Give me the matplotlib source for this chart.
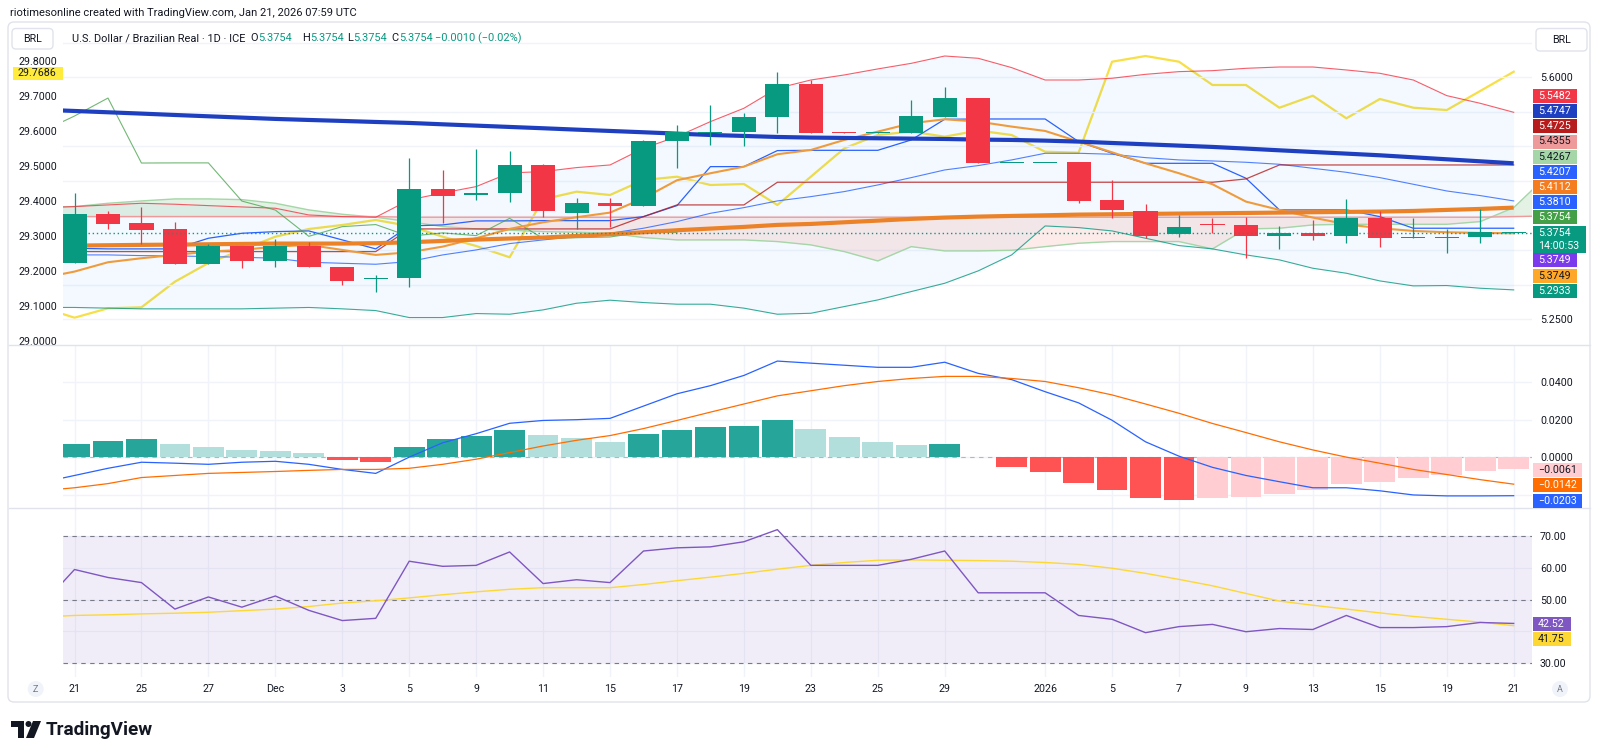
import matplotlib
matplotlib.use("Agg")
import matplotlib.pyplot as plt
import numpy as np
from matplotlib.patches import Circle, FancyBboxPatch, Polygon, Rectangle
from matplotlib.lines import Line2D
from matplotlib.transforms import IdentityTransform

plt.rcParams["font.family"] = ["Roboto", "DejaVu Sans"]

W, H = 1600, 756
INK = "#131722"
MUTED = "#787b86"
GRID = "#f0f3fa"
BORDER = "#e0e3eb"
UP = "#089981"
DOWN = "#f23645"

# bar 0 = Nov 21 2025 ... bar 43 = Jan 21 2026 (daily, ICE)
TICK_IDX = [0, 2, 4, 6, 8, 10, 12, 14, 16, 18, 20, 22, 24, 26, 29, 31, 33, 35, 37, 39, 41, 43]
TICK_LBL = ["21", "25", "27", "Dec", "3", "5", "9", "11", "15", "17", "19",
            "23", "25", "29", "2026", "5", "7", "9", "13", "15", "19", "21"]

OPEN = [5.332, 5.402, 5.389, 5.381, 5.330, 5.356, 5.334, 5.356, 5.326, 5.308,
        5.309, 5.438, 5.430, 5.432, 5.473, 5.404, 5.418, 5.414, 5.508, 5.520,
        5.521, 5.542, 5.591, 5.521, 5.520, 5.520, 5.543, 5.570, 5.476, 5.476,
        5.477, 5.422, 5.407, 5.373, 5.388, 5.387, 5.370, 5.375, 5.370, 5.396,
        5.3675, 5.368, 5.369, 5.3754]
HIGH = [5.433, 5.407, 5.413, 5.390, 5.359, 5.356, 5.366, 5.362, 5.326, 5.314,
        5.483, 5.466, 5.496, 5.493, 5.475, 5.425, 5.426, 5.509, 5.531, 5.560,
        5.549, 5.607, 5.596, 5.521, 5.521, 5.567, 5.586, 5.570, 5.476, 5.476,
        5.477, 5.451, 5.417, 5.401, 5.396, 5.398, 5.385, 5.394, 5.424, 5.406,
        5.396, 5.380, 5.409, 5.3754]
LOW = [5.332, 5.380, 5.359, 5.330, 5.330, 5.324, 5.325, 5.325, 5.299, 5.289,
       5.297, 5.389, 5.422, 5.420, 5.398, 5.380, 5.383, 5.414, 5.469, 5.502,
       5.500, 5.519, 5.520, 5.520, 5.520, 5.520, 5.543, 5.476, 5.476, 5.476,
       5.418, 5.396, 5.367, 5.369, 5.375, 5.338, 5.351, 5.365, 5.360, 5.355,
       5.367, 5.346, 5.360, 5.3754]
CLOSE = [5.402, 5.388, 5.379, 5.330, 5.356, 5.334, 5.356, 5.325, 5.306, 5.309,
         5.438, 5.429, 5.432, 5.473, 5.407, 5.418, 5.414, 5.508, 5.521, 5.521,
         5.542, 5.590, 5.520, 5.520, 5.521, 5.544, 5.570, 5.476, 5.4762, 5.4762,
         5.421, 5.408, 5.370, 5.384, 5.387, 5.370, 5.375, 5.371, 5.396, 5.367,
         5.368, 5.369, 5.3764, 5.3754]

# overlays, first value is bar -1 (Nov 20)
EMA_LONG = [5.5532,
            5.5513, 5.5494, 5.5475, 5.5455, 5.5436, 5.5417, 5.5398, 5.5383, 5.5369, 5.5354,
            5.5340, 5.5320, 5.5301, 5.5282, 5.5263, 5.5243, 5.5224, 5.5205, 5.5185, 5.5166,
            5.5152, 5.5137, 5.5128, 5.5123, 5.5118, 5.5113, 5.5108, 5.5099, 5.5094, 5.5084,
            5.5070, 5.5050, 5.5031, 5.5012, 5.4993, 5.4969, 5.4944, 5.4920, 5.4896, 5.4872,
            5.4843, 5.4814, 5.4785, 5.4756]
EMA_MID = [5.3561,
           5.3566, 5.3571, 5.3576, 5.3580, 5.3585, 5.3590, 5.3595, 5.3595, 5.3595, 5.3600,
           5.3614, 5.3633, 5.3653, 5.3668, 5.3682, 5.3706, 5.3730, 5.3759, 5.3788, 5.3812,
           5.3836, 5.3865, 5.3879, 5.3903, 5.3927, 5.3952, 5.3971, 5.3985, 5.3995, 5.4004,
           5.4014, 5.4019, 5.4024, 5.4029, 5.4033, 5.4038, 5.4043, 5.4048, 5.4053, 5.4058,
           5.4067, 5.4082, 5.4096, 5.4115]
EMA_FAST = [5.3094,
            5.3190, 5.3325, 5.3383, 5.3431, 5.3479, 5.3503, 5.3551, 5.3576, 5.3503, 5.3431,
            5.3469, 5.3551, 5.3672, 5.3807, 5.3903, 5.3976, 5.4043, 5.4250, 5.4511, 5.4612,
            5.4708, 5.4887, 5.4949, 5.5094, 5.5214, 5.5335, 5.5393, 5.5359, 5.5287, 5.5224,
            5.5070, 5.4915, 5.4756, 5.4612, 5.4453, 5.4202, 5.4082, 5.3971, 5.3874, 5.3817,
            5.3778, 5.3759, 5.3749, 5.3744]
BB_UP = [5.4115,
         5.4130, 5.4154, 5.4178, 5.4164, 5.4144, 5.4125, 5.4106, 5.4009, 5.3985, 5.3976,
         5.4226, 5.4327, 5.4419, 5.4617, 5.4636, 5.4694, 5.4732, 5.4973, 5.5142, 5.5359,
         5.5552, 5.5841, 5.5961, 5.6034, 5.6121, 5.6202, 5.6308, 5.6275, 5.6140, 5.5961,
         5.5961, 5.5986, 5.6043, 5.6082, 5.6096, 5.6130, 5.6149, 5.6149, 5.6106, 5.6058,
         5.5961, 5.5735, 5.5624, 5.5494]
BB_MID = [5.3431,
          5.3431, 5.3431, 5.3421, 5.3416, 5.3407, 5.3397, 5.3383, 5.3325, 5.3310, 5.3296,
          5.3335, 5.3431, 5.3503, 5.3595, 5.3648, 5.3696, 5.3744, 5.3817, 5.3913, 5.4033,
          5.4115, 5.4212, 5.4274, 5.4347, 5.4443, 5.4549, 5.4660, 5.4723, 5.4805, 5.4901,
          5.4901, 5.4887, 5.4838, 5.4805, 5.4790, 5.4771, 5.4742, 5.4684, 5.4626, 5.4549,
          5.4453, 5.4356, 5.4289, 5.4212]
BB_LO = [5.2671,
         5.2671, 5.2661, 5.2651, 5.2651, 5.2651, 5.2651, 5.2661, 5.2671, 5.2651, 5.2626,
         5.2525, 5.2525, 5.2583, 5.2573, 5.2636, 5.2732, 5.2776, 5.2742, 5.2718, 5.2718,
         5.2661, 5.2573, 5.2587, 5.2684, 5.2780, 5.2901, 5.3021, 5.3200, 5.3431, 5.3850,
         5.3826, 5.3778, 5.3672, 5.3566, 5.3518, 5.3431, 5.3359, 5.3238, 5.3166, 5.3055,
         5.2983, 5.2988, 5.2949, 5.2925]
TENKAN = [5.3527,
          5.3527, 5.3518, 5.3518, 5.3518, 5.3672, 5.3744, 5.3768, 5.3778, 5.3648, 5.3518,
          5.3850, 5.3865, 5.3923, 5.3923, 5.3927, 5.3927, 5.3927, 5.3985, 5.4144, 5.4708,
          5.4708, 5.4940, 5.4944, 5.4944, 5.4944, 5.5094, 5.5393, 5.5397, 5.5397, 5.5397,
          5.5070, 5.4901, 5.4756, 5.4756, 5.4756, 5.4540, 5.4082, 5.4082, 5.4082, 5.3985,
          5.3817, 5.3817, 5.3817, 5.3817]
KIJUN = [5.3479,
         5.3479, 5.3479, 5.3479, 5.3479, 5.3479, 5.3479, 5.3479, 5.3479, 5.3479, 5.3479,
         5.3807, 5.3807, 5.3807, 5.3807, 5.3807, 5.3807, 5.3807, 5.3985, 5.4154, 5.4154,
         5.4154, 5.4482, 5.4482, 5.4482, 5.4482, 5.4482, 5.4482, 5.4482, 5.4482, 5.4482,
         5.4482, 5.4482, 5.4482, 5.4482, 5.4482, 5.4530, 5.4732, 5.4732, 5.4732, 5.4732,
         5.4732, 5.4732, 5.4732, 5.4732]
# leading spans run one bar past the last candle (bar 44)
SPAN_A = [5.4115,
          5.4130, 5.4178, 5.4212, 5.4241, 5.4241, 5.4231, 5.4178, 5.4082, 5.4019, 5.3976,
          5.3913, 5.3841, 5.3807, 5.3788, 5.3768, 5.3759, 5.3744, 5.3682, 5.3648, 5.3648,
          5.3648, 5.3624, 5.3576, 5.3479, 5.3344, 5.3551, 5.3489, 5.3489, 5.3498, 5.3551,
          5.3600, 5.3624, 5.3624, 5.3624, 5.3518, 5.3807, 5.3817, 5.3865, 5.3874, 5.3874,
          5.3874, 5.3874, 5.3913, 5.4115, 5.4578]
SPAN_B = [5.3985,
          5.3985, 5.3985, 5.3985, 5.3985, 5.3985, 5.3985, 5.3985, 5.3985, 5.3985, 5.3985,
          5.3976, 5.3976, 5.3976, 5.3976, 5.3976, 5.3976, 5.3976, 5.3976, 5.3976, 5.3976,
          5.3976, 5.3976, 5.3976, 5.3976, 5.3976, 5.3976, 5.3976, 5.3976, 5.3976, 5.3976,
          5.3976, 5.3976, 5.3976, 5.3976, 5.3976, 5.3976, 5.3976, 5.3976, 5.3976, 5.3976,
          5.3976, 5.3976, 5.3976, 5.3985, 5.3995]
# yellow overlay on the left (29.x) scale
YELLOW = [29.0980,
          29.0678, 29.0946, 29.0974, 29.1704, 29.2236, 29.2607, 29.2986, 29.3205, 29.3319, 29.3462,
          29.3291, 29.2986, 29.2721, 29.2399, 29.4051, 29.4268, 29.4174, 29.4601, 29.4695, 29.4459,
          29.4487, 29.3889, 29.4695, 29.5504, 29.5883, 29.5983, 29.5835, 29.6011, 29.5883, 29.5407,
          29.5379, 29.7972, 29.8134, 29.7972, 29.7308, 29.7308, 29.6661, 29.7003, 29.6359, 29.6909,
          29.6661, 29.6595, 29.7137, 29.7686]

MACD = [-0.0134,
        -0.0096, -0.0058, -0.0026, -0.0031, -0.0037, -0.0026, -0.0021, -0.0037, -0.0064, -0.0085,
        0.0001, 0.0077, 0.0125, 0.0180, 0.0195, 0.0199, 0.0206, 0.0271, 0.0336, 0.0379,
        0.0433, 0.0509, 0.0498, 0.0487, 0.0476, 0.0476, 0.0503, 0.0444, 0.0411, 0.0347,
        0.0288, 0.0196, 0.0082, 0.0006, -0.0053, -0.0096, -0.0129, -0.0161, -0.0161, -0.0177,
        -0.0199, -0.0204, -0.0204, -0.0203]
SIGNAL = [-0.0177,
          -0.0161, -0.0139, -0.0107, -0.0096, -0.0085, -0.0080, -0.0075, -0.0069, -0.0064, -0.0064,
          -0.0058, -0.0037, -0.0010, 0.0025, 0.0060, 0.0090, 0.0115, 0.0152, 0.0195, 0.0239,
          0.0282, 0.0325, 0.0352, 0.0379, 0.0401, 0.0417, 0.0428, 0.0428, 0.0417, 0.0401,
          0.0368, 0.0330, 0.0282, 0.0233, 0.0179, 0.0131, 0.0082, 0.0039, 0.0001, -0.0031,
          -0.0064, -0.0091, -0.0118, -0.0142]
HIST = [0.0071, 0.0087, 0.0098, 0.0071, 0.0055, 0.0039, 0.0033, 0.0023, -0.0012, -0.0025,
        0.0055, 0.0098, 0.0114, 0.0147, 0.0120, 0.0104, 0.0082, 0.0125, 0.0147, 0.0158,
        0.0168, 0.0195, 0.0152, 0.0109, 0.0082, 0.0066, 0.0071, 0.0003, -0.0049, -0.0076,
        -0.0135, -0.0173, -0.0216, -0.0227, -0.0216, -0.0211, -0.0194, -0.0173, -0.0140, -0.0130,
        -0.0108, -0.0092, -0.0070, -0.0061]

RSI = [48.0,
       59.4, 56.9, 55.3, 47.0, 50.8, 47.6, 51.1, 46.6, 43.4, 44.1,
       62.0, 60.4, 60.7, 64.9, 55.0, 56.2, 55.3, 65.2, 66.2, 66.5,
       68.1, 71.9, 60.7, 60.7, 60.7, 62.6, 65.2, 52.1, 52.1, 52.1,
       45.0, 43.8, 39.6, 41.5, 42.2, 39.9, 40.9, 40.6, 45.0, 41.2,
       41.2, 41.5, 42.8, 42.5]
RSI_MA = [44.5,
          45.0, 45.2, 45.5, 45.7, 46.0, 46.5, 47.0, 47.8, 48.9, 49.6,
          50.5, 51.5, 52.4, 53.2, 53.7, 53.7, 53.7, 54.7, 55.9, 57.0,
          58.2, 59.5, 60.7, 61.6, 62.3, 62.4, 62.3, 62.2, 62.0, 61.6,
          61.0, 59.8, 58.2, 56.3, 54.3, 51.9, 49.5, 48.2, 47.0, 45.8,
          44.7, 43.8, 42.9, 41.8]

# last-value tags on the price scale: text, bg, fg
PRICE_TAGS = [("5.5482", "#f23645", "white"), ("5.4747", "#1e40c0", "white"),
              ("5.4725", "#b71c1c", "white"), ("5.4355", "#ef9a9a", INK),
              ("5.4267", "#a5d6a7", INK), ("5.4207", "#2962ff", "white"),
              ("5.4112", "#f57c1f", "white"), ("5.3810", "#2962ff", "white"),
              ("5.3754", "#43a047", "white")]
PRICE_TAGS_LOW = [("5.3749", "#7c3aed", "white"), ("5.3749", "#ffa726", INK),
                  ("5.2933", "#089981", "white")]
MACD_TAGS = [("\u22120.0061", "#ffcdd2", INK), ("\u22120.0142", "#ff6d00", "white"),
             ("\u22120.0203", "#2962ff", "white")]
RSI_TAGS = [("42.52", "#7e57c2", "white"), ("41.75", "#fdd835", INK)]

X0, X1 = -0.344, 43.547
ID = IdentityTransform()

fig = plt.figure(figsize=(16, 7.56), dpi=100)
fig.patch.set_facecolor("white")


def box_px(x0, y0, x1, y1):
    return [x0 / W, 1 - y1 / H, (x1 - x0) / W, (y1 - y0) / H]


def ptext(x, y, s, **kw):
    kw.setdefault("fontsize", 7.7)
    kw.setdefault("color", INK)
    kw.setdefault("va", "center")
    fig.text(x / W, 1 - y / H, s, **kw)


def prect(x0, y0, x1, y1, **kw):
    fig.add_artist(Rectangle((x0, H - y1), x1 - x0, y1 - y0, transform=ID, **kw))


def tag(x0, yc, text, bg, fg, w=44, h=14):
    prect(x0, yc - h / 2, x0 + w, yc + h / 2, facecolor=bg, edgecolor="none", zorder=4)
    ptext(x0 + 5, yc, text, color=fg, zorder=5)


def style(a, yticks, ylabels):
    for s in a.spines.values():
        s.set_visible(False)
    a.set_xlim(X0, X1)
    a.set_xticks(TICK_IDX)
    a.set_yticks(yticks)
    a.set_yticklabels(ylabels)
    a.yaxis.tick_right()
    a.tick_params(length=0, labelsize=7.7, colors=INK, labelbottom=False)
    a.tick_params(axis="y", pad=5.8)
    a.grid(True, color=GRID, lw=1)
    a.set_axisbelow(True)


xs = np.arange(-1, 44)
xb = np.arange(44)

# ---- main price pane (left 29.x scale underneath, right 5.x scale on top)
ax_l = fig.add_axes(box_px(63, 26, 1532, 345))
ax = ax_l.twinx()
ax_l.set_zorder(0)
ax.set_zorder(1)
ax.patch.set_visible(False)
for s in ax_l.spines.values():
    s.set_visible(False)
ax_l.set_xlim(X0, X1)
ax_l.set_ylim(28.990, 29.8989)
ax_l.set_yticks([29.0, 29.1, 29.2, 29.3, 29.4, 29.5, 29.6, 29.7, 29.8])
ax_l.set_yticklabels([f"{v:.4f}" for v in ax_l.get_yticks()])
ax_l.yaxis.tick_left()
ax_l.tick_params(length=0, labelsize=7.7, colors=INK, labelbottom=False, pad=4.3)
ax_l.plot(xs, YELLOW, color="#f7df45", lw=1.6, zorder=3)

style(ax, [5.25, 5.30, 5.35, 5.40, 5.45, 5.50, 5.55, 5.60, 5.65],
      ["5.2500", "", "", "", "", "", "", "5.6000", ""])
ax.set_ylim(5.2128, 5.6742)

ax.fill_between(xs, BB_UP, BB_LO, color="#2196f3", alpha=0.05, lw=0, zorder=1)
xa = np.arange(-1, 45)
sa, sb = np.array(SPAN_A), np.array(SPAN_B)
ax.fill_between(xa, sa, sb, where=sa >= sb, interpolate=True, color="#43a047", alpha=0.14, lw=0, zorder=1)
ax.fill_between(xa, sa, sb, where=sa < sb, interpolate=True, color="#f44336", alpha=0.10, lw=0, zorder=1)
ax.plot(xa, SPAN_A, color="#a5d6a7", lw=1, zorder=2)
ax.plot(xa, SPAN_B, color="#ef9a9a", lw=1, zorder=2)
ax.plot(xs, BB_UP, color="#f23645", lw=0.8, alpha=0.8, zorder=2)
ax.plot(xs, BB_LO, color="#089981", lw=0.8, alpha=0.8, zorder=2)
ax.plot(xs, BB_MID, color="#2962ff", lw=0.8, alpha=0.8, zorder=2)
ax.plot(xs, TENKAN, color="#2962ff", lw=0.9, zorder=2)
ax.plot(xs, KIJUN, color="#b71c1c", lw=0.9, alpha=0.8, zorder=2)
# lagging span: closes shifted 25 bars back
ax.plot(xb[24:] - 25, CLOSE[24:], color="#43a047", lw=0.8, alpha=0.75, zorder=2)
ax.plot(xs, EMA_FAST, color="#ef9b3c", lw=1.5, zorder=3)
ax.plot(xs, EMA_MID, color="#ec8228", lw=3, zorder=3, solid_capstyle="butt")
ax.plot(xs, EMA_LONG, color="#1e40c0", lw=3, zorder=3, solid_capstyle="butt")

o, h, l, c = map(np.array, (OPEN, HIGH, LOW, CLOSE))
col = np.where(c >= o, UP, DOWN)
ax.vlines(xb, l, h, colors=col, lw=0.9, zorder=5)
ax.bar(xb, np.maximum(np.abs(c - o), 0.0013), bottom=np.minimum(o, c), width=0.72,
       color=col, lw=0, zorder=6)
ax.axhline(CLOSE[-1], color=UP, lw=1, ls=(0, (1, 2)), zorder=7)

# ---- MACD pane
ax_m = fig.add_axes(box_px(63, 345, 1532, 508))
style(ax_m, [-0.02, 0.0, 0.02, 0.04], ["", "0.0000", "0.0200", "0.0400"])
ax_m.set_ylim(-0.0268, 0.0594)
hcol = []
for i, v in enumerate(HIST):
    prev = HIST[i - 1] if i else 0.0
    if v >= 0:
        hcol.append("#26a69a" if v > prev else "#b2dfdb")
    else:
        hcol.append("#ff5252" if v < prev else "#ffcdd2")
ax_m.bar(xb, HIST, width=0.92, color=hcol, lw=0, zorder=2)
ax_m.axhline(0, color=MUTED, lw=0.8, ls=(0, (4, 4)), alpha=0.5, zorder=1)
ax_m.plot(xs, MACD, color="#2962ff", lw=0.9, zorder=3)
ax_m.plot(xs, SIGNAL, color="#ff6d00", lw=0.9, zorder=3)

# ---- RSI pane
ax_r = fig.add_axes(box_px(63, 508, 1532, 677))
style(ax_r, [30, 40, 50, 60, 70], ["30.00", "", "50.00", "60.00", "70.00"])
ax_r.set_ylim(25.71, 78.68)
ax_r.axhspan(30, 70, color="#7e57c2", alpha=0.1, lw=0, zorder=1)
for lvl in (30, 50, 70):
    ax_r.axhline(lvl, color=MUTED, lw=0.8, ls=(0, (4, 4)), zorder=2)
ax_r.plot(xs, RSI_MA, color="#fdd835", lw=1, zorder=3)
ax_r.plot(xs, RSI, color="#7e57c2", lw=1, zorder=4)
ax_r.set_xticklabels(TICK_LBL)
ax_r.tick_params(axis="x", labelbottom=True, pad=5)

# ---- chrome: frame, separators, header, tags
fig.add_artist(FancyBboxPatch((8, H - 702), 1582, 680, boxstyle="round,pad=0,rounding_size=6",
                              transform=ID, fill=False, ec=BORDER, lw=1))
prect(9, 345, 62, 356, facecolor="white", edgecolor="none", zorder=1)
for yy in (345, 508):
    fig.add_artist(Line2D([9, 1590], [H - yy, H - yy], transform=ID, color=BORDER, lw=1))

ptext(10, 13, "riotimesonline created with TradingView.com, Jan 21, 2026 07:59 UTC", fontsize=8)
legend = [(71.6, "U.S. Dollar / Brazilian Real \u00b7 1D \u00b7 ICE", INK), (250.7, "O", INK),
          (258, "5.3754", UP), (302, "H", INK), (310, "5.3754", UP), (346.7, "L", INK),
          (353, "5.3754", UP), (391.5, "C", INK), (399, "5.3754", UP),
          (435, "\u22120.0010 (\u22120.02%)", UP)]
for x, s, cc in legend:
    ptext(x, 38, s, color=cc, fontsize=7.9)

for x0, x1, y1 in ((12, 53, 49), (1536, 1587, 51)):
    fig.add_artist(FancyBboxPatch((x0, H - y1), x1 - x0, y1 - 28.5, boxstyle="round,pad=0,rounding_size=4",
                                  transform=ID, fc="white", ec=BORDER, lw=1, zorder=4))
    ptext((x0 + x1) / 2, (28.5 + y1) / 2, "BRL", ha="center", zorder=5)

tag(13, 73, "29.7686", "#ffeb3b", INK, w=50, h=13)
for (s, bg, fg), yc in zip(PRICE_TAGS, [96.2, 110.9, 126.2, 141.5, 156.5, 171.7, 187.1, 202.2, 217.3]):
    tag(1533, yc, s, bg, fg)
prect(1533, 225.7, 1586, 252.5, facecolor=UP, edgecolor="none", zorder=4)
ptext(1538, 232.7, "5.3754", color="white", zorder=5)
ptext(1538, 246, "14:00:53", color="white", zorder=5)
for (s, bg, fg), yc in zip(PRICE_TAGS_LOW, [260, 275.6, 291]):
    tag(1533, yc, s, bg, fg)
for (s, bg, fg), yc in zip(MACD_TAGS, [470, 485.2, 500.5]):
    tag(1533, yc, s, bg, fg, w=49)
for (s, bg, fg), yc in zip(RSI_TAGS, [624, 639.3]):
    tag(1533, yc, s, bg, fg, w=38)

for x, s in ((35.7, "Z"), (1560, "A")):
    fig.add_artist(Circle((x, H - 689), 8, transform=ID, fc=GRID, ec="none"))
    ptext(x, 689, s, ha="center", color=MUTED, fontsize=6.5)

# TradingView wordmark
fig.add_artist(Polygon([(11, H - 721), (24, H - 721), (24, H - 738), (18, H - 738), (18, H - 727), (11, H - 727)],
                       closed=True, transform=ID, fc=INK, ec="none"))
fig.add_artist(Circle((28.5, H - 724), 3, transform=ID, fc=INK, ec="none"))
fig.add_artist(Polygon([(33, H - 721), (41, H - 721), (34, H - 738), (26, H - 738)],
                       closed=True, transform=ID, fc=INK, ec="none"))
ptext(46, 730, "TradingView", fontsize=13.6, fontweight="bold")

fig.savefig("out.png", dpi=100, facecolor="white")
